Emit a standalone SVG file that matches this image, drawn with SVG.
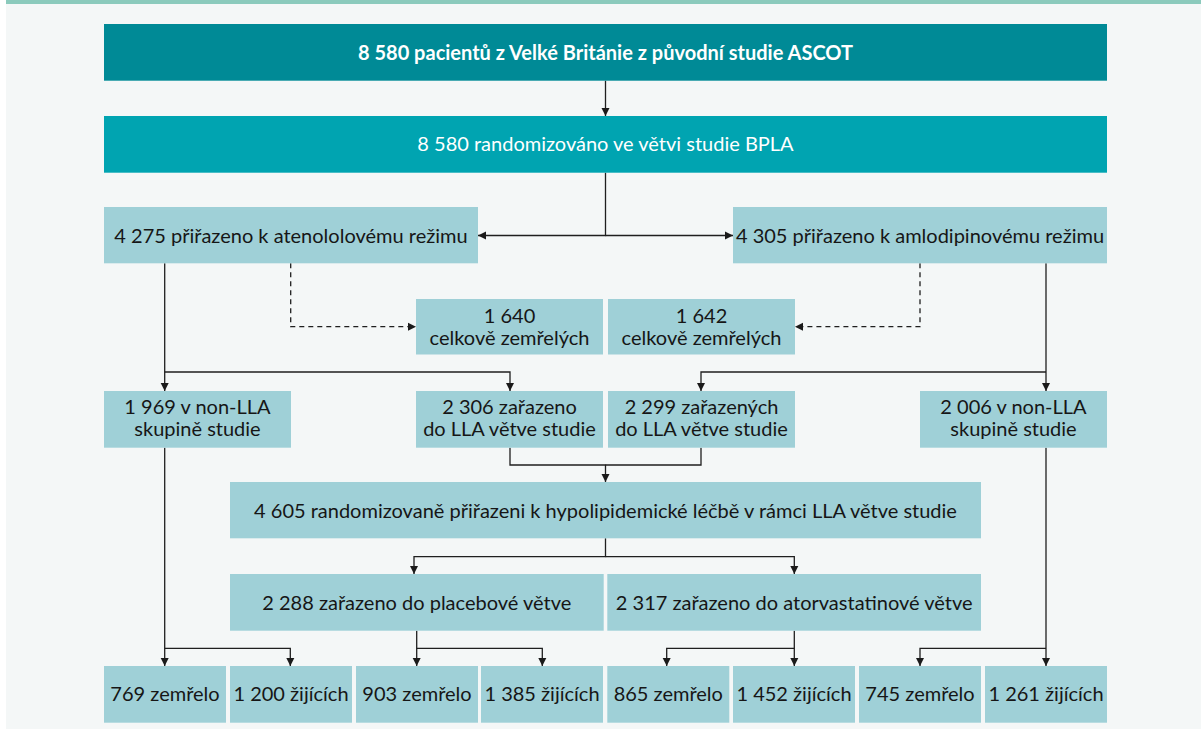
<svg xmlns="http://www.w3.org/2000/svg" width="1201" height="730" viewBox="0 0 1201 730">
<defs>
<style>
.bg{fill:#f4f7f7}
.band{fill:#8bcabc}
.b1{fill:#008a96}
.b2{fill:#00a4b1}
.lb{fill:#9fd0d7}
text{font-family:Lato,"Noto Sans","Liberation Sans",sans-serif;font-size:20px;fill:#161616;text-anchor:middle}
.w{fill:#ffffff}
.bold{font-weight:bold}
.c{fill:none;stroke:#1f1f1f;stroke-width:1.3}
.d{stroke-dasharray:5 4}
</style>
<marker id="ah" markerUnits="userSpaceOnUse" markerWidth="9" markerHeight="9" refX="8" refY="4.5" orient="auto">
<path d="M0,0.5 L8,4.5 L0,8.5 z" fill="#1a1a1a"/>
</marker>
</defs>
<rect x="0" y="0" width="1201" height="730" fill="#ffffff"/>
<rect class="bg" x="6" y="0" width="1195" height="729"/>
<rect class="band" x="6" y="0" width="1195" height="4"/>

<g id="connectors">
<path class="c" d="M605.5,80.7 V116" marker-end="url(#ah)"/>
<path class="c" d="M605.5,172.7 V235.5 H478" marker-end="url(#ah)"/>
<path class="c" d="M605.5,235.5 H733" marker-end="url(#ah)"/>
<path class="c d" d="M290.7,263.3 V326.7 H416" marker-end="url(#ah)"/>
<path class="c d" d="M920,263.3 V326.7 H795" marker-end="url(#ah)"/>
<path class="c" d="M164.7,263.3 V391" marker-end="url(#ah)"/>
<path class="c" d="M164.7,372 H510 V391" marker-end="url(#ah)"/>
<path class="c" d="M1046,263.3 V391" marker-end="url(#ah)"/>
<path class="c" d="M1046,372 H701 V391" marker-end="url(#ah)"/>
<path class="c" d="M510,447.7 V465 H605.5 V482" marker-end="url(#ah)"/>
<path class="c" d="M701,447.7 V465 H605.5"/>
<path class="c" d="M605.5,538.3 V556.7 H414 V574" marker-end="url(#ah)"/>
<path class="c" d="M605.5,556.7 H794.3 V574" marker-end="url(#ah)"/>
<path class="c" d="M164.7,447.7 V666" marker-end="url(#ah)"/>
<path class="c" d="M164.7,648.3 H290.3 V666" marker-end="url(#ah)"/>
<path class="c" d="M416.7,630.7 V666" marker-end="url(#ah)"/>
<path class="c" d="M416.7,648.3 H542.3 V666" marker-end="url(#ah)"/>
<path class="c" d="M794.3,630.7 V666" marker-end="url(#ah)"/>
<path class="c" d="M794.3,648.3 H666.7 V666" marker-end="url(#ah)"/>
<path class="c" d="M1046,447.7 V666" marker-end="url(#ah)"/>
<path class="c" d="M1046,648.3 H920 V666" marker-end="url(#ah)"/>
</g>

<g id="n-ascot"><rect class="b1" x="104" y="24" width="1003" height="56.7"/><text class="w bold" x="605.5" y="59.5">8 580 pacientů z Velké Británie z původní studie ASCOT</text></g>
<g id="n-bpla"><rect class="b2" x="104" y="116" width="1003" height="56.7"/><text class="w" x="605.5" y="150.7">8 580 randomizováno ve větvi studie BPLA</text></g>
<g id="n-aten"><rect class="lb" x="104" y="207" width="374" height="56.3"/><text x="291" y="242.5">4 275 přiřazeno k atenololovému režimu</text></g>
<g id="n-amlo"><rect class="lb" x="733" y="207" width="374" height="56.3"/><text x="920" y="242.5">4 305 přiřazeno k amlodipinovému režimu</text></g>
<g id="n-dead1"><rect class="lb" x="416" y="299" width="187" height="55.5"/><text x="509.5" y="322.8">1 640</text><text x="509.5" y="344.6">celkově zemřelých</text></g>
<g id="n-dead2"><rect class="lb" x="608" y="299" width="187" height="55.5"/><text x="701.5" y="322.8">1 642</text><text x="701.5" y="344.6">celkově zemřelých</text></g>
<g id="n-nonlla1"><rect class="lb" x="104" y="391" width="187" height="56.7"/><text x="197.5" y="414.3">1 969 v non-LLA</text><text x="197.5" y="436">skupině studie</text></g>
<g id="n-lla1"><rect class="lb" x="416" y="391" width="187" height="56.7"/><text x="509.5" y="414.3">2 306 zařazeno</text><text x="509.5" y="436">do LLA větve studie</text></g>
<g id="n-lla2"><rect class="lb" x="608" y="391" width="187" height="56.7"/><text x="701.5" y="414.3">2 299 zařazených</text><text x="701.5" y="436">do LLA větve studie</text></g>
<g id="n-nonlla2"><rect class="lb" x="920" y="391" width="187" height="56.7"/><text x="1013.5" y="414.3">2 006 v non-LLA</text><text x="1013.5" y="436">skupině studie</text></g>
<g id="n-4605"><rect class="lb" x="230" y="482" width="751" height="56.3"/><text x="605.5" y="518">4 605 randomizovaně přiřazeni k hypolipidemické léčbě v rámci LLA větve studie</text></g>
<g id="n-placebo"><rect class="lb" x="230" y="574" width="373.7" height="56.7"/><text x="416.8" y="610">2 288 zařazeno do placebové větve</text></g>
<g id="n-atorva"><rect class="lb" x="607.3" y="574" width="373.7" height="56.7"/><text x="794.2" y="610">2 317 zařazeno do atorvastatinové větve</text></g>
<g id="n-o1"><rect class="lb" x="104" y="666" width="122" height="56.7"/><text x="165" y="700.7">769 zemřelo</text></g>
<g id="n-o2"><rect class="lb" x="230" y="666" width="122" height="56.7"/><text x="291" y="700.7">1 200 žijících</text></g>
<g id="n-o3"><rect class="lb" x="356" y="666" width="122" height="56.7"/><text x="417" y="700.7">903 zemřelo</text></g>
<g id="n-o4"><rect class="lb" x="481" y="666" width="122" height="56.7"/><text x="542" y="700.7">1 385 žijících</text></g>
<g id="n-o5"><rect class="lb" x="607.3" y="666" width="122" height="56.7"/><text x="668.3" y="700.7">865 zemřelo</text></g>
<g id="n-o6"><rect class="lb" x="733" y="666" width="122" height="56.7"/><text x="794" y="700.7">1 452 žijících</text></g>
<g id="n-o7"><rect class="lb" x="859" y="666" width="122" height="56.7"/><text x="920" y="700.7">745 zemřelo</text></g>
<g id="n-o8"><rect class="lb" x="985" y="666" width="122" height="56.7"/><text x="1046" y="700.7">1 261 žijících</text></g>
</svg>
